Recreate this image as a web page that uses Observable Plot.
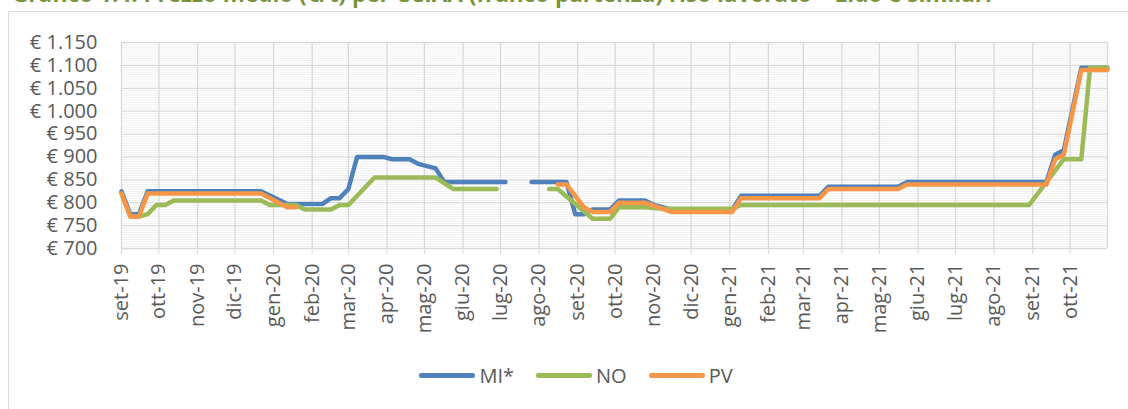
<!DOCTYPE html>
<html>
<head>
<meta charset="utf-8">
<script src="https://cdn.jsdelivr.net/npm/d3@7"></script>
<script src="https://cdn.jsdelivr.net/npm/@observablehq/plot@0.6"></script>
<style>
  html, body { margin: 0; padding: 0; background: #fff; }
  body { width: 1128px; height: 409px; overflow: hidden; position: relative; font-family: "Open Sans", sans-serif; }
  #title { position: absolute; left: 12px; top: -17px; font-size: 22.5px; line-height: 22.5px; font-weight: bold; color: #77933C; white-space: nowrap; }
  #frame { position: absolute; left: 8px; top: 11px; width: 1136px; height: 420px; border: 1px solid #d9d9d9; box-sizing: border-box; }
  #chart { position: absolute; left: 0; top: 0; }
  #legend { position: absolute; left: 8px; width: 1136px; top: 362px; display: flex; justify-content: center; align-items: center; font-size: 20px; color: #595959; }
  .item { display: flex; align-items: center; margin: 0 11px; }
  .sw { width: 56px; height: 4.5px; border-radius: 2.25px; margin-right: 4px; }
</style>
</head>
<body>
<div id="title">Grafico 1.4: Prezzo medio (€/t) per CCIAA (franco partenza) riso lavorato – Lido e similari</div>
<div id="frame"></div>
<div id="chart"></div>
<div id="legend"></div>
<script>
// ---- data ----
const seriesNames = ["MI*", "NO", "PV"];
const seriesColors = ["#4F81BD", "#9BBB59", "#F79646"];

const miDates = ["2019-09-01","2019-09-08","2019-09-15","2019-09-22","2019-12-22","2020-01-12","2020-02-09","2020-02-16","2020-02-23","2020-03-01","2020-03-08","2020-03-29","2020-04-05","2020-04-19","2020-04-26","2020-05-03","2020-05-10","2020-05-17","2020-07-05","2020-07-15","2020-07-26","2020-08-23","2020-08-30","2020-09-06","2020-09-13","2020-09-27","2020-10-04","2020-10-25","2020-11-01","2020-11-08","2020-11-15","2021-01-03","2021-01-10","2021-03-14","2021-03-21","2021-05-16","2021-05-23","2021-09-12","2021-09-19","2021-09-26","2021-10-10","2021-10-31"];
const miValues = [825,775,775,825,825,797,797,810,810,830,900,900,895,895,885,880,875,845,845,null,845,845,775,775,785,785,805,805,795,790,785,785,815,815,835,835,845,845,905,915,1095,1095];

const noDates = ["2019-09-01","2019-09-08","2019-09-15","2019-09-22","2019-09-29","2019-10-06","2019-10-13","2019-12-22","2019-12-29","2020-01-19","2020-01-26","2020-02-16","2020-02-23","2020-03-01","2020-03-22","2020-05-10","2020-05-24","2020-06-28","2020-07-20","2020-08-09","2020-08-16","2020-09-13","2020-09-27","2020-10-04","2020-10-25","2020-11-08","2021-01-03","2021-01-10","2021-08-29","2021-09-26","2021-10-10","2021-10-17","2021-10-31"];
const noValues = [820,770,770,775,795,795,805,805,795,795,785,785,795,795,855,855,830,830,null,830,830,765,765,790,790,787,787,795,795,895,895,1095,1095];

const pvDates = ["2019-09-01","2019-09-08","2019-09-15","2019-09-22","2019-12-22","2020-01-12","2020-01-19","2020-05-01","2020-08-16","2020-08-23","2020-09-06","2020-09-13","2020-09-27","2020-10-04","2020-10-25","2020-11-15","2021-01-03","2021-01-10","2021-03-14","2021-03-21","2021-05-16","2021-05-23","2021-09-12","2021-09-19","2021-09-26","2021-10-10","2021-10-31"];
const pvValues = [820,770,770,820,820,790,790,null,840,840,790,780,780,800,800,780,780,810,810,830,830,840,840,895,905,1090,1090];

const xStart = "2019-09-01";
const xEnd = "2021-10-31";
const tickLabels = ["set-19","ott-19","nov-19","dic-19","gen-20","feb-20","mar-20","apr-20","mag-20","giu-20","lug-20","ago-20","set-20","ott-20","nov-20","dic-20","gen-21","feb-21","mar-21","apr-21","mag-21","giu-21","lug-21","ago-21","set-21","ott-21"];
const yTicks = [700,750,800,850,900,950,1000,1050,1100,1150];

// ---- build ----
const parse = s => new Date(s + "T00:00:00Z");
const start = parse(xStart), end = parse(xEnd);
const tickDates = d3.utcMonth.range(start, end).slice(0, tickLabels.length);
const labelOf = new Map(tickDates.map((d, i) => [+d, tickLabels[i]]));
const toRows = (dates, values, name) => dates.map((d, i) => ({date: parse(d), value: values[i] == null ? NaN : values[i], series: name}));
const rows = [
  toRows(miDates, miValues, seriesNames[0]),
  toRows(noDates, noValues, seriesNames[1]),
  toRows(pvDates, pvValues, seriesNames[2])
];
const minorTicks = d3.range(705, 1150, 5).filter(v => v % 50 !== 0);
const euro = v => "€ " + d3.format(",")(v).replace(/,/g, ".");

const chart = Plot.plot({
  width: 1128,
  height: 340,
  marginLeft: 121,
  marginRight: 21,
  marginTop: 42,
  marginBottom: 92,
  style: {fontFamily: "'Open Sans', sans-serif", fontSize: "20px", color: "#595959", background: "transparent", overflow: "visible"},
  x: {type: "utc", domain: [start, end], label: null, axis: null},
  y: {domain: [700, 1150], label: null, axis: null},
  marks: [
    Plot.ruleY(minorTicks, {stroke: "#f0f0f0", strokeWidth: 1}),
    Plot.ruleY(yTicks, {stroke: "#d9d9d9", strokeWidth: 1.3}),
    Plot.ruleX([...tickDates, end], {stroke: "#d9d9d9", strokeWidth: 1.3}),
    Plot.axisX(tickDates, {tickSize: 6, tickPadding: 9, tickRotate: -90, stroke: "#d9d9d9", fill: "#595959", tickFormat: d => labelOf.get(+d), label: null, fontSize: 20}),
    Plot.axisY(yTicks, {tickSize: 0, tickPadding: 24, fill: "#595959", tickFormat: euro, label: null, fontSize: 20}),
    ...rows.map((r, i) => Plot.line(r, {x: "date", y: "value", stroke: seriesColors[i], strokeWidth: 4.5, strokeLinejoin: "round", strokeLinecap: "round"}))
  ]
});
document.getElementById("chart").appendChild(chart);

const legend = document.getElementById("legend");
seriesNames.forEach((n, i) => {
  const it = document.createElement("div");
  it.className = "item";
  const sw = document.createElement("span");
  sw.className = "sw";
  sw.style.background = seriesColors[i];
  const t = document.createElement("span");
  t.textContent = n;
  it.appendChild(sw); it.appendChild(t);
  legend.appendChild(it);
});
</script>
</body>
</html>
